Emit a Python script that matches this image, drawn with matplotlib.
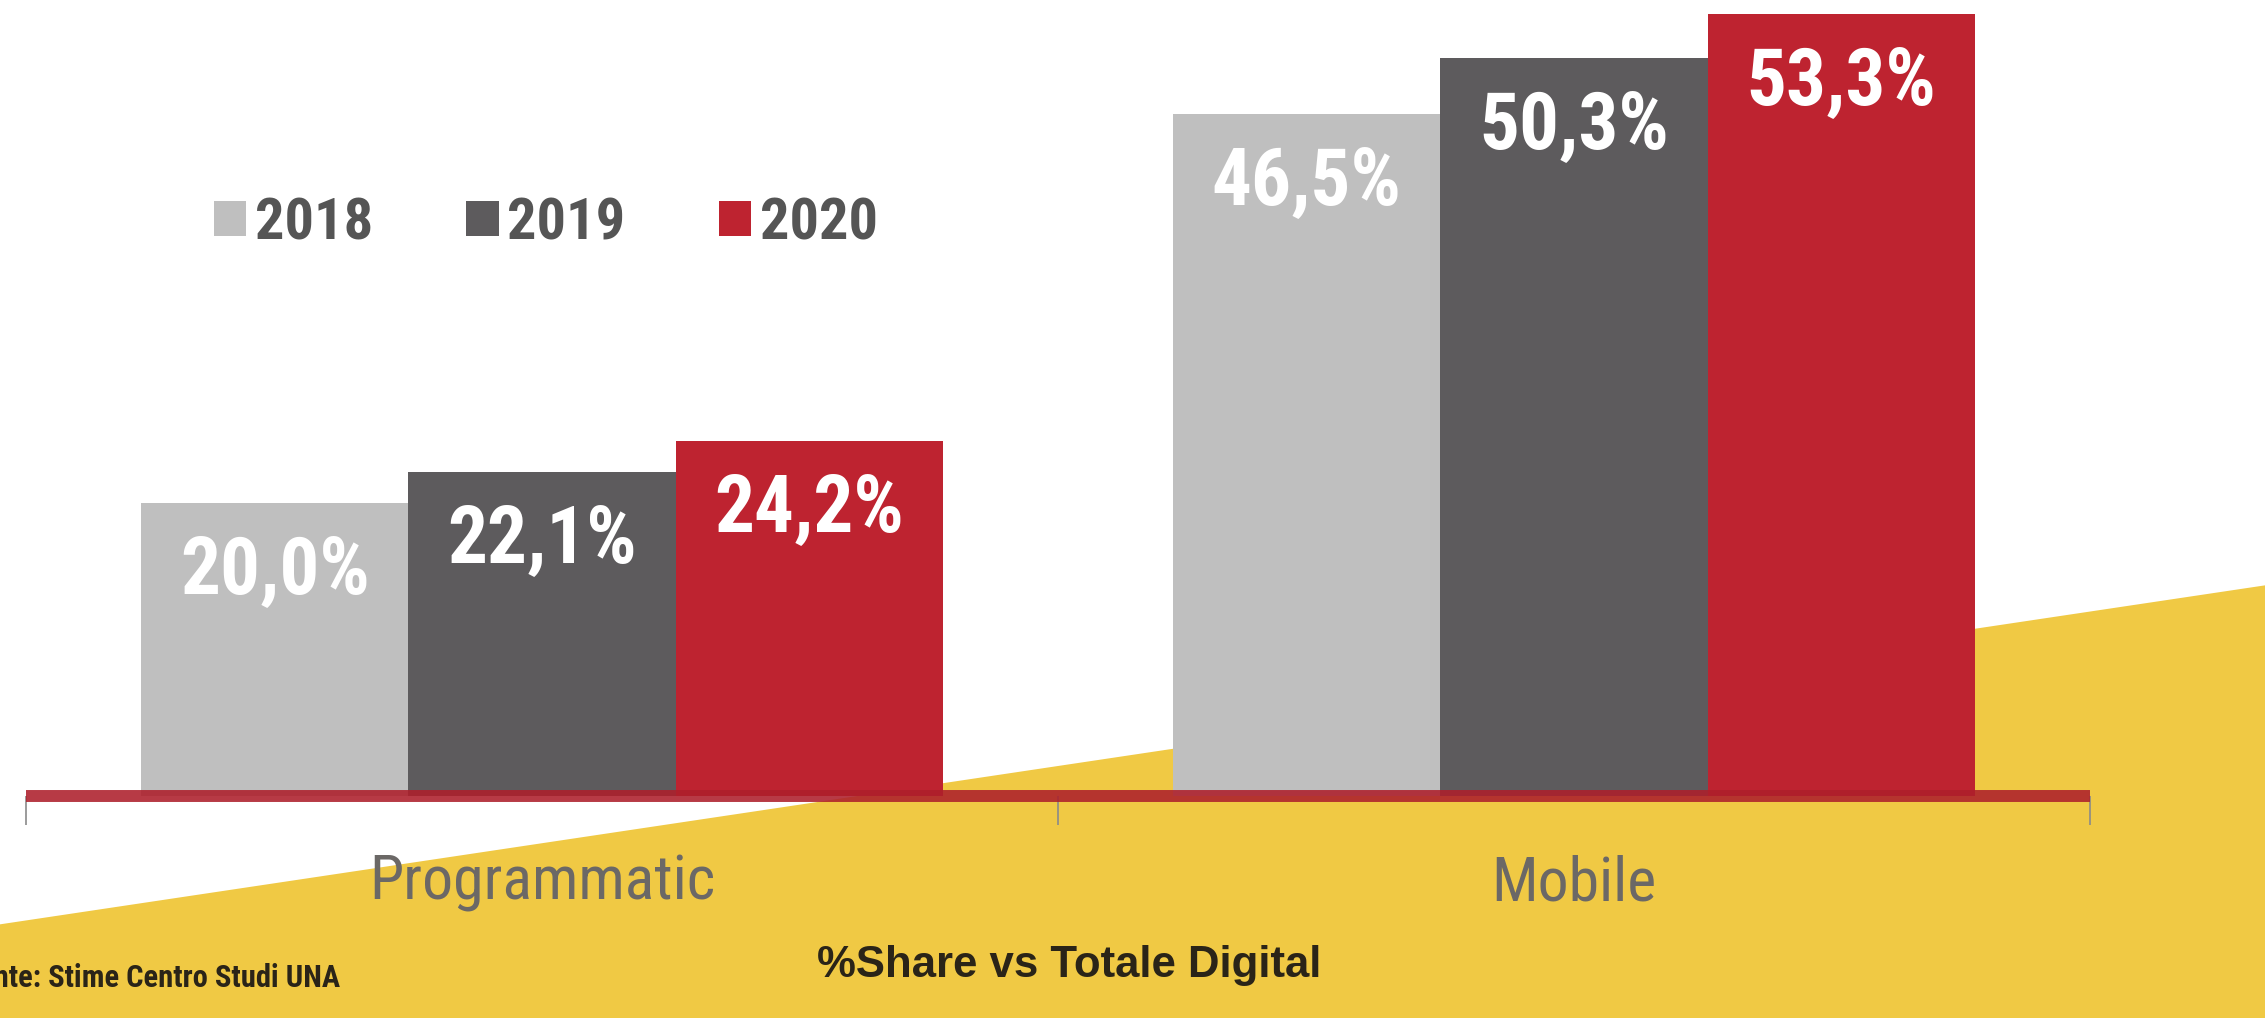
import matplotlib
matplotlib.use("Agg")
import matplotlib.pyplot as plt
from matplotlib.patches import Polygon
from matplotlib.font_manager import FontProperties, fontManager

# Data: share of total digital advertising (%)
categories = ["Programmatic", "Mobile"]
years = ["2018", "2019", "2020"]
share_2018 = [20.0, 46.5]
share_2019 = [22.1, 50.3]
share_2020 = [24.2, 53.3]
series = [share_2018, share_2019, share_2020]

bar_colors = ["#bfbfbf", "#5d5b5d", "#be2330"]
yellow = "#f0c944"


def pick_narrow():
    """Return a condensed sans family that has static regular and bold files."""
    for fam in ["Roboto Condensed", "PT Sans Narrow", "Asap Condensed",
                "Barlow Semi Condensed", "Archivo Narrow"]:
        files = [f for f in fontManager.ttflist if f.name == fam and "[" not in f.fname]
        weights = {int(f.weight) for f in files if isinstance(f.weight, int) or str(f.weight).isdigit()}
        if 400 in weights and 700 in weights:
            return fam
    return "Liberation Sans"


narrow = pick_narrow()

W, H, DPI = 2265, 1018, 100
fig = plt.figure(figsize=(W / DPI, H / DPI), dpi=DPI)
fig.patch.set_facecolor("white")

# Yellow diagonal band in the lower part of the figure
band = Polygon([(0, 0), (0, 0.092), (1, 0.425), (1, 0)], closed=True,
               transform=fig.transFigure, facecolor=yellow, edgecolor="none", zorder=0)
fig.patches.append(band)

base_px = 796
ax = fig.add_axes([26 / W, 1 - base_px / H, (2090 - 26) / W, base_px / H])
ax.set_zorder(2)
ax.patch.set_alpha(0)
ax.set_xlim(-0.5, 1.5)
ax.set_ylim(0, 54.26)

bar_w = 0.259
x = list(range(len(categories)))
containers = []
for i, (vals, col) in enumerate(zip(series, bar_colors)):
    xs = [xi + (i - 1) * bar_w for xi in x]
    bars = ax.bar(xs, vals, width=bar_w, color=col, edgecolor="none", zorder=2)
    containers.append(bars)
    for xb, v in zip(xs, vals):
        ax.annotate(f"{v:.1f}%".replace(".", ","), xy=(xb, v), xytext=(0, -50),
                    textcoords="offset points", ha="center", va="center",
                    color="white", fontsize=57, fontweight="semibold",
                    family=narrow, zorder=4)

# Red baseline
ax.axhline(0, color="#ad1f2b", lw=8.6, alpha=0.88, zorder=3,
           solid_capstyle="butt", clip_on=False)

for s in ax.spines.values():
    s.set_visible(False)
ax.set_yticks([])
ax.set_xticks(x)
ax.set_xticklabels(categories, family=narrow, fontsize=44.5, color="#6b6866")
ax.tick_params(axis="x", which="major", length=0, pad=42)
ax.set_xticks([-0.5, 0.5, 1.5], minor=True)
ax.tick_params(axis="x", which="minor", length=21, width=1.2, color="#8a8a8a", direction="out")

leg = ax.legend(containers, years, ncol=3, loc="center left",
                bbox_to_anchor=(214 / W, 1 - 224 / H), bbox_transform=fig.transFigure,
                frameon=False, handlelength=0.55, handleheight=0.55,
                handletextpad=0.15, columnspacing=1.6, borderpad=0, borderaxespad=0,
                prop=FontProperties(family=narrow, weight="semibold", size=42),
                labelcolor="#555555")

fig.text(1069 / W, 1 - 965 / H, "%Share vs Totale Digital", ha="center", va="center",
         fontsize=31.5, fontweight="bold", family="Liberation Sans", color="#2a2418")
fig.text(-36 / W, 1 - 978 / H, "Fonte: Stime Centro Studi UNA", ha="left", va="center",
         fontsize=22, fontweight="bold", family=narrow, color="#2a2418")

fig.savefig("out.png", dpi=DPI)
